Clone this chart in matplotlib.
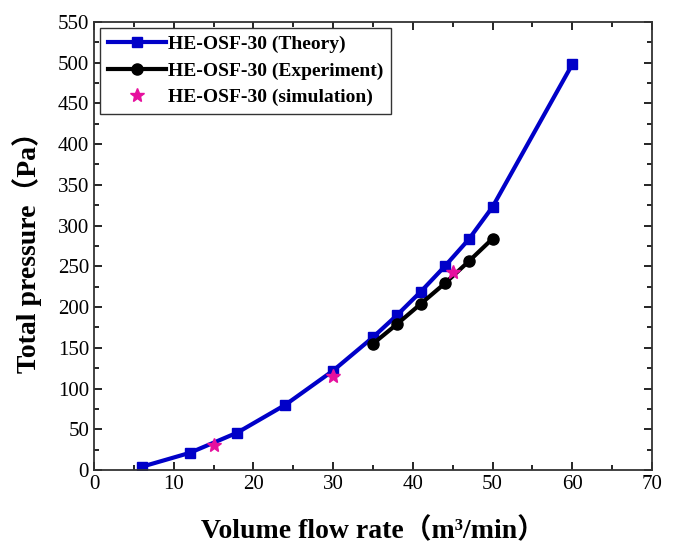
import matplotlib
matplotlib.use('Agg')
import matplotlib.pyplot as plt
from matplotlib.ticker import MultipleLocator

plt.rcParams['font.family'] = ['Liberation Serif', 'Noto Sans CJK SC']

# theory curve
q_theory = [6, 12, 18, 24, 30, 35, 38, 41, 44, 47, 50, 60]
p_theory = [4, 21, 46, 80, 122, 163, 190, 219, 250, 283, 323, 498]

# experiment
q_exp = [35, 38, 41, 44, 47, 50]
p_exp = [155, 179, 204, 229, 256, 284]

# simulation
q_sim = [15, 30, 45]
p_sim = [31, 115, 243]

labels = ['HE-OSF-30 (Theory)', 'HE-OSF-30 (Experiment)', 'HE-OSF-30 (simulation)']

fig = plt.figure(figsize=(6.78, 5.48), dpi=100)
ax = fig.add_axes([0.1386, 0.1423, 0.9617 - 0.1386, 0.96 - 0.1423])

ax.plot(q_theory, p_theory, color='#0000c8', lw=3, marker='s', ms=7, label=labels[0])
ax.plot(q_exp, p_exp, color='black', lw=3, marker='o', ms=8, label=labels[1])
ax.plot(q_sim, p_sim, ls='none', color='#e6109e', marker='*', ms=10, label=labels[2])

ax.set_xlim(0, 70)
ax.set_ylim(0, 550)
ax.xaxis.set_major_locator(MultipleLocator(10))
ax.xaxis.set_minor_locator(MultipleLocator(5))
ax.yaxis.set_major_locator(MultipleLocator(50))
ax.yaxis.set_minor_locator(MultipleLocator(25))
ax.tick_params(which='both', direction='in', top=True, right=True, labelsize=15)
ax.tick_params(which='major', length=6, width=1.2)
ax.tick_params(which='minor', length=3.5, width=1.2)
for s in ax.spines.values():
    s.set_linewidth(1.3)
    s.set_color('#333333')

ax.set_xlabel('Volume flow rate（m³/min）', fontsize=20, fontweight='bold', labelpad=17)
ax.set_ylabel('Total pressure（Pa）', fontsize=20, fontweight='bold', labelpad=11)

leg = ax.legend(loc='upper left', prop={'weight': 'bold', 'size': 14}, handlelength=3.0,
                fancybox=False, edgecolor='#333333', framealpha=1, borderaxespad=0.3,
                handletextpad=0.1, labelspacing=0.45)
leg.get_frame().set_linewidth(1.0)

plt.savefig('out.png', dpi=100)
